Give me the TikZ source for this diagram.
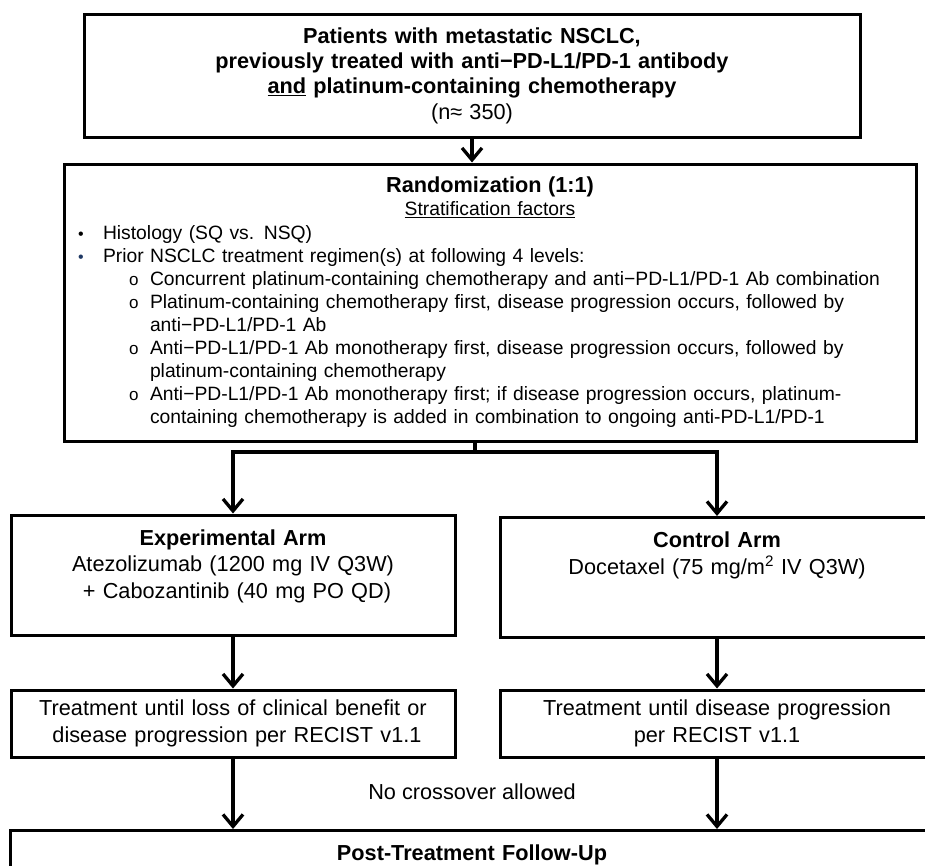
\documentclass[tikz,border=0pt]{standalone}
\usepackage{fontspec}
\setmainfont{Liberation Sans}
\usepackage{xcolor}
\usetikzlibrary{arrows.meta, positioning, calc}
\definecolor{bulletblue}{RGB}{31,56,100}
\newcommand{\dotmark}[1][black]{\makebox[25pt][l]{\textcolor{#1}{\fontsize{16}{16}\selectfont •}}}
\newcommand{\ringmark}{\makebox[21pt][l]{\fontsize{17}{17}\selectfont o}}
\tikzset{
    box/.style={draw, line width=3pt, inner sep=8pt, align=center},
    armbox/.style={box, text height=20pt, text depth=80pt, inner ysep=10pt},
    flow/.style={line width=3.3pt, -{Straight Barb[length=12pt, width=20pt]}},
    link/.style={line width=3.3pt},
    armtext/.style={font=\fontsize{21.7}{26.5}\selectfont},
    every node/.style={font=\fontsize{21.7}{25.3}\selectfont}
}

\begin{document}
\begin{tikzpicture}[x=1pt, y=-1pt]
    \useasboundingbox (0,0) rectangle (925,865);
    \clip (0,0) rectangle (925,865);
    % Eligibility
    \node[box, text width=760pt, minimum height=123pt] (pts) at (472,75.5)
        {\textbf{Patients with metastatic NSCLC,}\\
         \textbf{previously treated with anti−PD-L1/PD-1 antibody}\\
         \textbf{\underline{and} platinum-containing chemotherapy}\\
         (n≈ 350)};
    % Randomization + stratification
    \node[box, align=left, text width=836pt, minimum height=277pt,
          font=\fontsize{19.3}{23.1}\selectfont] (rand) at (490,302.5)
        {\makebox[\linewidth]{\fontsize{21.7}{23.1}\selectfont\textbf{Randomization (1:1)}}\\
         \makebox[\linewidth]{\underline{Stratification factors}}\\
         \hspace*{6pt}\dotmark Histology (SQ vs. NSQ)\\
         \hspace*{6pt}\dotmark[bulletblue]Prior NSCLC treatment regimen(s) at following 4 levels:\\
         \hspace*{57pt}\ringmark Concurrent platinum-containing chemotherapy and anti−PD-L1/PD-1 Ab combination\\
         \hspace*{57pt}\ringmark Platinum-containing chemotherapy first, disease progression occurs, followed by\\
         \hspace*{78pt}anti−PD-L1/PD-1 Ab\\
         \hspace*{57pt}\ringmark Anti−PD-L1/PD-1 Ab monotherapy first, disease progression occurs, followed by\\
         \hspace*{78pt}platinum-containing chemotherapy\\
         \hspace*{57pt}\ringmark Anti−PD-L1/PD-1 Ab monotherapy first; if disease progression occurs, platinum-\\
         \hspace*{78pt}containing chemotherapy is added in combination to ongoing anti-PD-L1/PD-1};
    % Arms
    \node[armbox, armtext, text width=428pt] (exp) at (233,575)
        {\textbf{Experimental Arm}\\
         Atezolizumab (1200 mg IV Q3W)\\
         \hspace*{8pt}+ Cabozantinib (40 mg PO QD)};
    \node[armbox, armtext, text width=418pt] (ctl) at (717,577.5)
        {\textbf{Control Arm}\\
         Docetaxel (75 mg/m\textsuperscript{2} IV Q3W)};
    % Treatment duration
    \node[box, armtext, text width=428pt, minimum height=67pt] (trtexp) at (233,723.5)
        {Treatment until loss of clinical benefit or\\
         \hspace*{8pt}disease progression per RECIST v1.1};
    \node[box, armtext, text width=418pt, minimum height=67pt] (trtctl) at (717,723.5)
        {Treatment until disease progression\\
         per RECIST v1.1};
    % Follow-up
    \node[armbox, text width=908pt, text depth=40pt, anchor=north] (post) at (472,829)
        {\textbf{Post-Treatment Follow-Up}};
    \node (nocross) at (472,792) {No crossover allowed};
    % Connectors
    \draw[flow] (pts.south) -- (pts.south |- rand.north);
    \coordinate (split) at (475,452);
    \draw[link] (split |- rand.south) -- (split);
    \draw[flow] (split) -| (exp.north);
    \draw[flow] (split) -| (ctl.north);
    \draw[flow] (exp.south) -- (trtexp.north);
    \draw[flow] (ctl.south) -- (trtctl.north);
    \draw[flow] (trtexp.south) -- (trtexp.south |- post.north);
    \draw[flow] (trtctl.south) -- (trtctl.south |- post.north);
\end{tikzpicture}
\end{document}
